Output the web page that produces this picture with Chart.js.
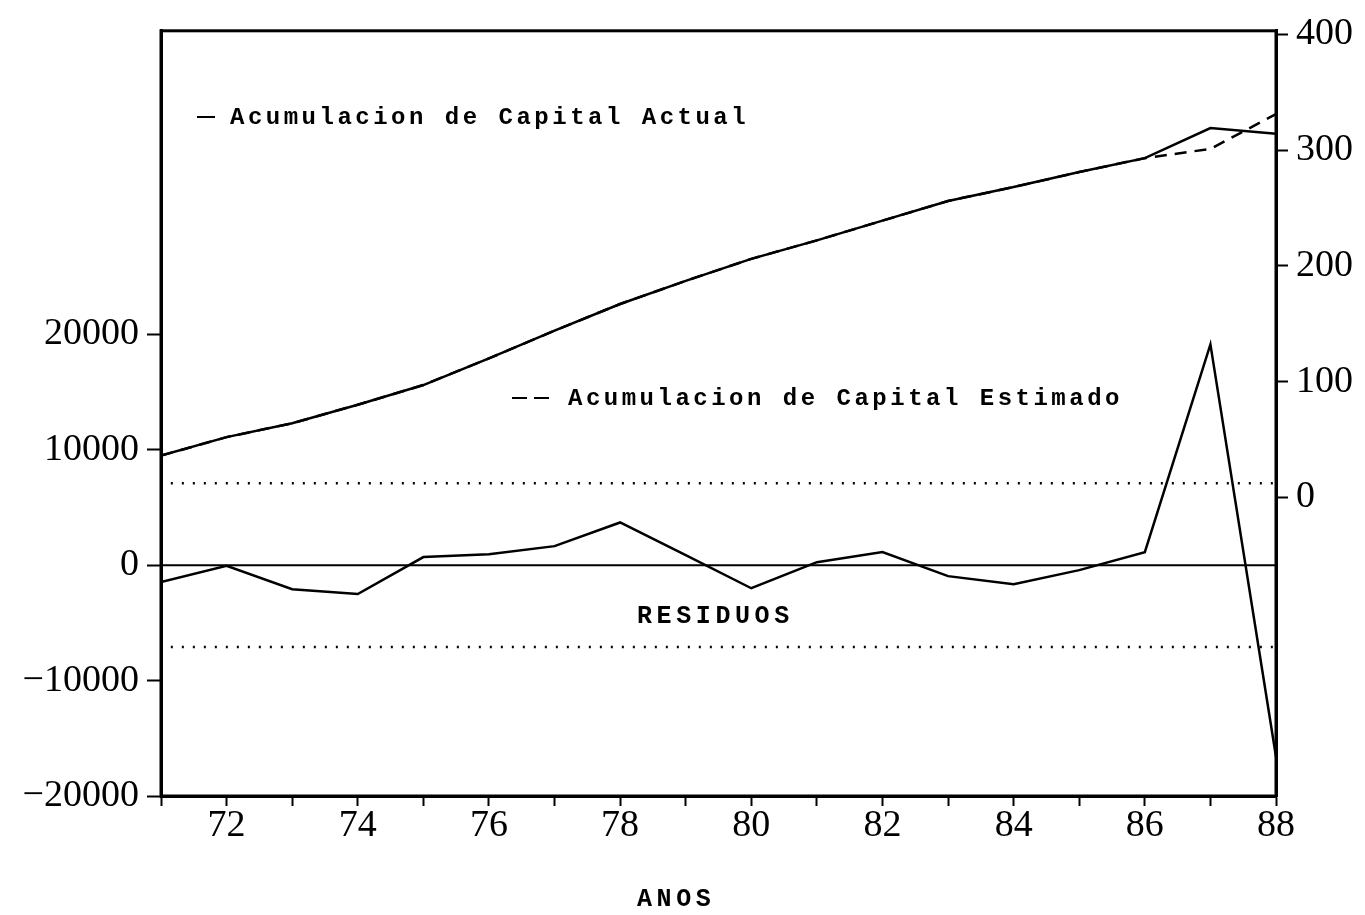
<!DOCTYPE html>
<html>
<head>
<meta charset="utf-8">
<script src="https://cdn.jsdelivr.net/npm/chart.js@4.4.0/dist/chart.umd.min.js"></script>
<style>
  html, body { margin: 0; padding: 0; background: #fff; }
</style>
</head>
<body>
<canvas id="chart" width="1365" height="915"></canvas>
<script>
// Data
const years = [71, 72, 73, 74, 75, 76, 77, 78, 79, 80, 81, 82, 83, 84, 85, 86, 87, 88];
const capitalActual   = [36, 52, 64, 80, 97, 120, 144, 167, 187, 206, 222, 239, 256, 268, 281, 293, 319, 314];
const capitalEstimado = [36, 52, 64, 80, 97, 120, 144, 167, 187, 206, 222, 239, 256, 268, 281, 293, 301, 331];
const residuos = [-1470, -50, -2080, -2500, 700, 950, 1650, 3700, 870, -2000, 260, 1130, -950, -1650, -430, 1130, 19130, -16600];
const bandaResiduos = 7100;   // dotted limits, +/- two std errors
const leftTicks = [-20000, -10000, 0, 10000, 20000];
const rightTicks = [0, 100, 200, 300, 400];
const xLabelYears = [72, 74, 76, 78, 80, 82, 84, 86, 88];

const BLACK = '#000';
const tickFont = { family: '"Liberation Serif", serif', size: 38 };
const toPoints = arr => arr.map((v, i) => ({ x: years[i], y: v }));
const fmt = v => (v < 0 ? '\u2212' + Math.abs(v) : String(v));

// frame around the plot area (top edge included)
const framePlugin = {
  id: 'frame',
  afterDatasetsDraw(chart) {
    const { ctx, chartArea: a } = chart;
    ctx.save();
    ctx.strokeStyle = BLACK;
    ctx.lineWidth = 3;
    ctx.strokeRect(a.left, a.top, a.right - a.left, a.bottom - a.top);
    ctx.restore();
  }
};

// the in-plot labels of the original figure
const labelsPlugin = {
  id: 'labels',
  afterDraw(chart) {
    const ctx = chart.ctx;
    ctx.save();
    ctx.fillStyle = BLACK;
    ctx.strokeStyle = BLACK;
    ctx.textBaseline = 'middle';
    ctx.textAlign = 'left';

    ctx.font = 'bold 24px "Liberation Mono", monospace';
    ctx.letterSpacing = '3.5px';
    ctx.lineWidth = 2;
    ctx.beginPath(); ctx.moveTo(197, 117); ctx.lineTo(215, 117); ctx.stroke();
    ctx.fillText('Acumulacion de Capital Actual', 230, 118);

    ctx.setLineDash([15, 7]);
    ctx.beginPath(); ctx.moveTo(512, 398); ctx.lineTo(550, 398); ctx.stroke();
    ctx.setLineDash([]);
    ctx.fillText('Acumulacion de Capital Estimado', 568, 399);

    ctx.font = 'bold 25px "Liberation Mono", monospace';
    ctx.letterSpacing = '4.6px';
    ctx.fillText('RESIDUOS', 637, 617);
    ctx.fillText('ANOS', 637, 900);
    ctx.restore();
  }
};

const ctx = document.getElementById('chart').getContext('2d');
new Chart(ctx, {
  type: 'line',
  data: {
    datasets: [
      { label: 'Acumulacion de Capital Actual', data: toPoints(capitalActual), yAxisID: 'yR',
        borderColor: BLACK, borderWidth: 2.5, pointRadius: 0, tension: 0 },
      { label: 'Acumulacion de Capital Estimado', data: toPoints(capitalEstimado), yAxisID: 'yR',
        borderColor: BLACK, borderWidth: 2.5, borderDash: [12, 8], pointRadius: 0, tension: 0 },
      { label: 'Residuos', data: toPoints(residuos), yAxisID: 'yL',
        borderColor: BLACK, borderWidth: 2.5, pointRadius: 0, tension: 0 },
      { label: 'cero', data: [{ x: years[0], y: 0 }, { x: years[years.length - 1], y: 0 }], yAxisID: 'yL',
        borderColor: BLACK, borderWidth: 2, pointRadius: 0 },
      { label: 'limite sup', data: [{ x: 71.15, y: bandaResiduos }, { x: 88, y: bandaResiduos }], yAxisID: 'yL',
        borderColor: BLACK, borderWidth: 2.5, borderDash: [2, 9], pointRadius: 0 },
      { label: 'limite inf', data: [{ x: 71.15, y: -bandaResiduos }, { x: 88, y: -bandaResiduos }], yAxisID: 'yL',
        borderColor: BLACK, borderWidth: 2.5, borderDash: [2, 9], pointRadius: 0 }
    ]
  },
  options: {
    responsive: false,
    animation: false,
    layout: { padding: { top: 29 } },
    plugins: { legend: { display: false }, tooltip: { enabled: false } },
    scales: {
      x: {
        type: 'linear', min: 71, max: 88,
        afterBuildTicks: s => { s.ticks = years.map(v => ({ value: v })); },
        afterFit: s => { s.height = 119; },
        ticks: { callback: v => (xLabelYears.includes(v) ? String(v) : ''), font: tickFont, color: BLACK,
                 autoSkip: false, maxRotation: 0, padding: -3 },
        grid: { drawOnChartArea: false, tickLength: 10, tickColor: BLACK, tickWidth: 2 },
        border: { color: BLACK, width: 3 }
      },
      yL: {
        position: 'left', min: -20000, max: 46300,
        afterBuildTicks: s => { s.ticks = leftTicks.map(v => ({ value: v })); },
        afterFit: s => { s.width = 161; },
        ticks: { callback: fmt, font: tickFont, color: BLACK, padding: 8 },
        grid: { drawOnChartArea: false, tickLength: 14, tickColor: BLACK, tickWidth: 2 },
        border: { color: BLACK, width: 3 }
      },
      yR: {
        position: 'right', min: -258, max: 403,
        afterBuildTicks: s => { s.ticks = rightTicks.map(v => ({ value: v })); },
        afterFit: s => { s.width = 89; },
        ticks: { callback: fmt, font: tickFont, color: BLACK, padding: 8 },
        grid: { drawOnChartArea: false, tickLength: 12, tickColor: BLACK, tickWidth: 2 },
        border: { color: BLACK, width: 3 }
      }
    }
  },
  plugins: [framePlugin, labelsPlugin]
});
</script>
</body>
</html>
